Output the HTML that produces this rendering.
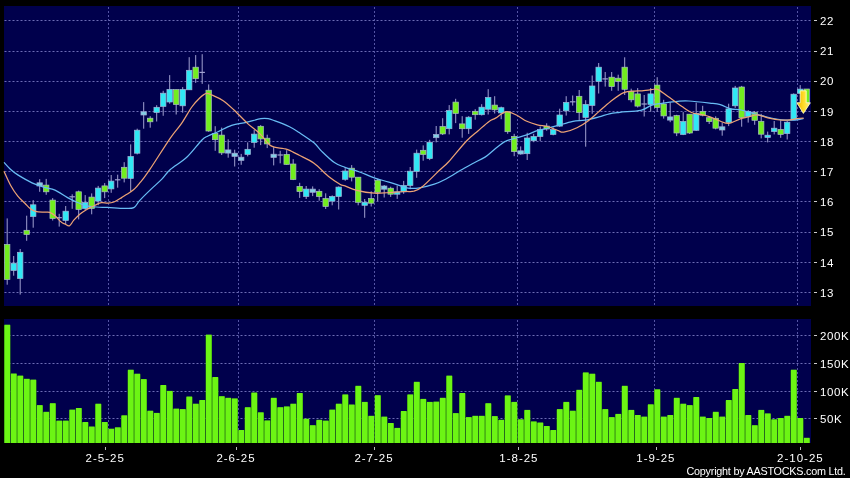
<!DOCTYPE html>
<html><head><meta charset="utf-8"><style>
html,body{margin:0;padding:0;background:#000;}
body{width:850px;height:478px;overflow:hidden;position:relative;font-family:"Liberation Sans",sans-serif;-webkit-font-smoothing:antialiased;}
#tx{position:absolute;left:0;top:0;width:850px;height:478px;will-change:transform}
.yl{position:absolute;left:820px;height:14px;line-height:14px;font-size:11.5px;color:#ffffff;letter-spacing:0.6px;white-space:nowrap}
.xl{position:absolute;top:451px;width:80px;text-align:center;height:14px;line-height:14px;font-size:11.5px;color:#ffffff;letter-spacing:1px;white-space:nowrap}
.cp{position:absolute;left:686.5px;top:464px;height:14px;line-height:14px;font-size:10.8px;color:#ffffff;letter-spacing:-0.23px;white-space:nowrap}
</style></head><body>
<svg width="850" height="478" viewBox="0 0 850 478" style="position:absolute;left:0;top:0">
<rect x="0" y="0" width="850" height="478" fill="#000"/>
<rect x="4" y="6" width="807" height="300" fill="#00004c"/>
<rect x="4" y="319" width="807" height="124" fill="#00004c"/>
<path d="M4.5 20.5H811 M4.5 51.5H811 M4.5 81.5H811 M4.5 111.5H811 M4.5 141.5H811 M4.5 171.5H811 M4.5 201.5H811 M4.5 232.5H811 M4.5 262.5H811 M4.5 292.5H811 M4.5 335.5H811 M4.5 363.5H811 M4.5 391.5H811 M4.5 418.5H811" stroke="#6c6cb4" stroke-width="1" stroke-dasharray="2 2" fill="none"/>
<path d="M108.5 7V306M108.5 320V443 M238.5 7V306M238.5 320V443 M374.5 7V306M374.5 320V443 M517.5 7V306M517.5 320V443 M654.5 7V306M654.5 320V443 M797.5 7V306M797.5 320V443" stroke="#5454a4" stroke-width="1" stroke-dasharray="2 2" fill="none"/>
<path d="M7.20 218.4V284.7 M13.70 256.0V275.7 M20.20 249.0V294.6 M26.70 215.7V240.8 M33.20 200.1V227.7 M39.70 179.2V191.8 M46.20 178.9V194.8 M52.70 198.1V220.5 M59.20 213.8V226.6 M65.70 206.0V224.4 M72.20 194.3V208.8 M78.70 190.6V219.4 M85.20 195.1V210.2 M91.70 193.4V214.3 M98.20 185.9V205.2 M104.70 183.1V198.1 M111.20 175.0V192.8 M117.70 174.7V187.7 M124.20 162.2V182.4 M130.70 144.4V191.4 M137.20 128.7V154.4 M143.70 102.1V128.7 M150.20 116.2V127.7 M156.70 105.2V121.5 M163.20 90.8V115.8 M169.70 75.1V103.7 M176.20 89.6V114.5 M182.70 87.1V112.7 M189.20 57.2V89.8 M195.70 55.1V82.9 M202.20 54.2V83.9 M208.70 84.4V131.8 M215.20 126.2V150.8 M221.70 127.6V155.0 M228.20 139.3V157.7 M234.70 149.7V166.5 M241.20 153.9V164.8 M247.70 142.4V156.4 M254.20 129.9V147.7 M260.70 125.1V145.1 M267.20 134.7V148.1 M273.70 147.2V165.4 M280.20 150.8V163.3 M286.70 150.2V164.8 M293.20 159.2V180.1 M299.70 182.8V197.9 M306.20 186.0V199.0 M312.70 186.4V196.1 M319.20 189.2V200.7 M325.70 193.3V209.0 M332.20 195.4V205.3 M338.70 186.4V209.5 M345.20 168.2V180.8 M351.70 165.1V181.4 M358.20 177.2V205.3 M364.70 199.0V217.8 M371.20 191.3V206.5 M377.70 178.7V201.1 M384.20 185.0V197.5 M390.70 186.7V196.9 M397.20 185.5V198.9 M403.70 180.9V193.8 M410.20 167.0V189.2 M416.70 149.6V177.8 M423.20 145.4V160.7 M429.70 139.8V160.1 M436.20 126.0V142.3 M442.70 118.2V135.0 M449.20 105.1V134.4 M455.70 98.8V123.1 M462.20 116.2V137.7 M468.70 116.2V133.9 M475.20 109.2V119.7 M481.70 104.2V115.5 M488.20 89.2V114.5 M494.70 96.2V113.5 M501.20 106.6V119.2 M507.70 111.4V133.8 M514.20 133.8V156.2 M520.70 146.4V154.7 M527.20 132.8V160.0 M533.70 133.8V142.2 M540.20 126.5V141.1 M546.70 123.3V130.7 M553.20 127.5V135.3 M559.70 108.7V126.9 M566.20 96.2V115.6 M572.70 95.5V105.6 M579.20 90.0V121.0 M585.70 100.2V146.7 M592.20 75.5V113.8 M598.70 63.0V93.5 M605.20 72.0V86.6 M611.70 72.0V90.8 M618.20 74.7V90.8 M624.70 57.3V95.0 M631.20 88.7V102.3 M637.70 88.1V107.5 M644.20 95.0V116.5 M650.70 88.1V111.7 M657.20 77.2V111.7 M663.70 99.8V118.6 M670.20 102.3V122.2 M676.70 114.8V136.1 M683.20 112.1V135.1 M689.70 114.2V134.0 M696.20 102.7V130.9 M702.70 105.8V116.3 M709.20 116.3V124.0 M715.70 116.3V129.4 M722.20 122.5V135.7 M728.70 103.7V126.1 M735.20 85.9V107.9 M741.70 85.9V126.7 M748.20 110.1V122.6 M754.70 111.0V124.8 M761.20 113.8V138.4 M767.70 131.6V142.4 M774.20 121.0V134.4 M780.70 120.2V137.8 M787.20 121.0V139.5 M793.70 93.4V120.2 M800.20 85.1V93.4 M806.70 89.0V102.4" stroke="#a0a0d0" stroke-width="1" fill="none"/>
<g fill="#30e8f4" stroke="#a0b4d8" stroke-width="0.7"><rect x="10.95" y="263.2" width="5.45" height="7.3"/><rect x="17.45" y="252.3" width="5.45" height="26.2"/><rect x="30.45" y="204.8" width="5.45" height="11.7"/><rect x="62.95" y="211.2" width="5.45" height="9.3"/><rect x="82.45" y="202.6" width="5.45" height="5.9"/><rect x="95.45" y="188.1" width="5.45" height="12.9"/><rect x="108.45" y="181.1" width="5.45" height="7.8"/><rect x="127.95" y="156.5" width="5.45" height="21.9"/><rect x="134.45" y="130.2" width="5.45" height="23.0"/><rect x="153.95" y="107.3" width="5.45" height="5.2"/><rect x="160.45" y="93.2" width="5.45" height="13.2"/><rect x="166.95" y="89.4" width="5.45" height="12.6"/><rect x="179.95" y="89.4" width="5.45" height="16.4"/><rect x="186.45" y="70.3" width="5.45" height="19.5"/><rect x="244.95" y="149.3" width="5.45" height="5.1"/><rect x="251.45" y="134.1" width="5.45" height="8.3"/><rect x="303.45" y="189.1" width="5.45" height="7.4"/><rect x="329.45" y="196.5" width="5.45" height="4.6"/><rect x="335.95" y="187.1" width="5.45" height="9.4"/><rect x="342.45" y="171.0" width="5.45" height="8.3"/><rect x="361.95" y="202.3" width="5.45" height="3.0"/><rect x="394.45" y="191.9" width="5.45" height="2.3"/><rect x="400.95" y="185.5" width="5.45" height="6.4"/><rect x="407.45" y="171.2" width="5.45" height="14.3"/><rect x="413.95" y="153.2" width="5.45" height="18.2"/><rect x="426.95" y="142.3" width="5.45" height="16.3"/><rect x="446.45" y="110.5" width="5.45" height="18.2"/><rect x="465.95" y="117.2" width="5.45" height="11.5"/><rect x="478.95" y="107.2" width="5.45" height="7.5"/><rect x="485.45" y="97.5" width="5.45" height="11.7"/><rect x="498.45" y="107.7" width="5.45" height="5.2"/><rect x="524.45" y="138.0" width="5.45" height="15.7"/><rect x="530.95" y="136.5" width="5.45" height="4.2"/><rect x="537.45" y="129.6" width="5.45" height="6.9"/><rect x="550.45" y="129.6" width="5.45" height="4.8"/><rect x="556.95" y="115.0" width="5.45" height="11.1"/><rect x="563.45" y="102.4" width="5.45" height="8.4"/><rect x="582.95" y="104.4" width="5.45" height="13.0"/><rect x="589.45" y="86.0" width="5.45" height="19.4"/><rect x="595.95" y="67.2" width="5.45" height="14.2"/><rect x="647.95" y="93.9" width="5.45" height="10.5"/><rect x="680.45" y="121.5" width="5.45" height="13.0"/><rect x="693.45" y="113.5" width="5.45" height="16.8"/><rect x="725.95" y="108.9" width="5.45" height="13.6"/><rect x="732.45" y="88.0" width="5.45" height="17.8"/><rect x="745.45" y="111.6" width="5.45" height="5.0"/><rect x="764.95" y="135.2" width="5.45" height="2.3"/><rect x="771.45" y="128.2" width="5.45" height="3.4"/><rect x="784.45" y="122.2" width="5.45" height="11.4"/><rect x="790.95" y="94.2" width="5.45" height="25.7"/><rect x="797.45" y="89.1" width="5.45" height="4.2"/></g>
<g fill="#72ee1e" stroke="#a8bcc0" stroke-width="0.7"><rect x="4.45" y="244.4" width="5.45" height="35.1"/><rect x="23.95" y="230.3" width="5.45" height="4.2"/><rect x="43.45" y="185.1" width="5.45" height="6.7"/><rect x="49.95" y="200.1" width="5.45" height="18.4"/><rect x="75.95" y="191.8" width="5.45" height="17.7"/><rect x="88.95" y="197.1" width="5.45" height="11.4"/><rect x="101.95" y="185.9" width="5.45" height="5.9"/><rect x="121.45" y="167.3" width="5.45" height="10.9"/><rect x="147.45" y="118.2" width="5.45" height="3.6"/><rect x="173.45" y="89.6" width="5.45" height="14.9"/><rect x="192.95" y="67.2" width="5.45" height="11.5"/><rect x="205.95" y="90.2" width="5.45" height="40.8"/><rect x="212.45" y="133.5" width="5.45" height="6.2"/><rect x="218.95" y="135.1" width="5.45" height="17.8"/><rect x="257.95" y="126.3" width="5.45" height="12.6"/><rect x="264.45" y="138.2" width="5.45" height="5.7"/><rect x="283.95" y="154.4" width="5.45" height="10.0"/><rect x="290.45" y="164.0" width="5.45" height="15.5"/><rect x="296.95" y="186.4" width="5.45" height="5.2"/><rect x="316.45" y="191.3" width="5.45" height="5.2"/><rect x="322.95" y="198.6" width="5.45" height="7.9"/><rect x="348.95" y="168.2" width="5.45" height="9.0"/><rect x="355.45" y="177.2" width="5.45" height="25.1"/><rect x="368.45" y="198.6" width="5.45" height="4.6"/><rect x="374.95" y="180.2" width="5.45" height="12.1"/><rect x="387.95" y="188.2" width="5.45" height="6.0"/><rect x="420.45" y="150.3" width="5.45" height="4.1"/><rect x="439.95" y="126.6" width="5.45" height="7.3"/><rect x="452.95" y="102.1" width="5.45" height="11.3"/><rect x="459.45" y="123.9" width="5.45" height="4.8"/><rect x="472.45" y="111.3" width="5.45" height="3.4"/><rect x="491.95" y="105.1" width="5.45" height="4.7"/><rect x="504.95" y="111.8" width="5.45" height="19.9"/><rect x="511.45" y="136.5" width="5.45" height="15.1"/><rect x="543.95" y="126.1" width="5.45" height="2.9"/><rect x="576.45" y="96.3" width="5.45" height="16.3"/><rect x="608.95" y="77.2" width="5.45" height="9.4"/><rect x="615.45" y="78.2" width="5.45" height="3.2"/><rect x="621.95" y="67.2" width="5.45" height="22.1"/><rect x="628.45" y="91.4" width="5.45" height="8.4"/><rect x="634.95" y="93.9" width="5.45" height="12.2"/><rect x="654.45" y="85.1" width="5.45" height="22.4"/><rect x="660.95" y="104.0" width="5.45" height="11.9"/><rect x="673.95" y="115.6" width="5.45" height="17.4"/><rect x="686.95" y="114.2" width="5.45" height="18.8"/><rect x="699.95" y="111.4" width="5.45" height="3.8"/><rect x="706.45" y="117.7" width="5.45" height="3.8"/><rect x="712.95" y="118.3" width="5.45" height="9.9"/><rect x="738.95" y="87.0" width="5.45" height="30.7"/><rect x="751.95" y="112.4" width="5.45" height="7.9"/><rect x="758.45" y="121.3" width="5.45" height="12.9"/><rect x="777.95" y="129.4" width="5.45" height="5.0"/><rect x="803.95" y="89.0" width="5.45" height="13.4"/></g>
<g fill="#80d0e4" stroke="#a0a8d4" stroke-width="0.7"><rect x="36.95" y="182.8" width="5.45" height="3.2"/><rect x="140.95" y="111.8" width="5.45" height="3.2"/><rect x="225.45" y="149.9" width="5.45" height="3.2"/><rect x="231.95" y="153.2" width="5.45" height="3.2"/><rect x="238.45" y="157.2" width="5.45" height="3.2"/><rect x="270.95" y="154.2" width="5.45" height="3.2"/><rect x="309.95" y="189.1" width="5.45" height="3.2"/><rect x="381.45" y="186.0" width="5.45" height="3.2"/><rect x="433.45" y="134.4" width="5.45" height="3.3"/><rect x="517.95" y="150.8" width="5.45" height="3.2"/><rect x="667.45" y="116.9" width="5.45" height="3.2"/><rect x="719.45" y="126.8" width="5.45" height="3.2"/></g>
<g fill="#a0a0d0"><rect x="56.45" y="217.1" width="5.45" height="1.2"/><rect x="69.45" y="196.2" width="5.45" height="1.2"/><rect x="114.95" y="179.2" width="5.45" height="1.2"/><rect x="199.45" y="71.8" width="5.45" height="1.2"/><rect x="277.45" y="154.4" width="5.45" height="1.2"/><rect x="569.95" y="101.2" width="5.45" height="1.2"/><rect x="602.45" y="78.3" width="5.45" height="1.2"/><rect x="641.45" y="103.4" width="5.45" height="1.2"/></g>
<path d="M4.0 162.4 C5.1 163.6 8.4 167.4 10.7 169.5 C13.0 171.6 14.2 172.7 17.8 174.9 C21.4 177.1 27.6 180.8 32.0 182.9 C36.4 185.0 40.6 186.1 44.4 187.3 C48.2 188.5 51.1 188.4 55.0 190.1 C58.9 191.8 64.0 195.6 67.6 197.6 C71.2 199.6 73.3 200.6 76.4 202.0 C79.5 203.4 83.1 205.0 86.4 205.8 C89.8 206.6 92.9 206.7 96.5 207.0 C100.1 207.3 103.2 207.2 107.8 207.4 C112.4 207.6 119.8 208.3 124.1 208.3 C128.4 208.3 131.2 208.9 133.8 207.6 C136.4 206.3 136.7 203.7 139.6 200.6 C142.5 197.5 147.7 192.4 151.4 188.9 C155.1 185.4 158.4 182.6 161.6 179.4 C164.8 176.2 166.1 173.2 170.3 169.5 C174.5 165.8 181.8 161.9 187.0 157.0 C192.2 152.1 198.2 143.7 201.7 140.2 C205.2 136.7 205.3 137.4 208.0 136.0 C210.7 134.6 214.1 133.6 218.0 131.8 C221.9 130.0 226.9 126.9 231.6 125.3 C236.3 123.7 241.4 123.4 246.3 122.3 C251.2 121.2 257.2 119.3 260.9 118.7 C264.5 118.1 265.8 118.3 268.2 118.7 C270.6 119.1 271.4 119.6 275.0 120.9 C278.6 122.2 285.4 124.8 289.5 126.7 C293.6 128.7 295.2 129.9 299.3 132.6 C303.4 135.3 310.3 139.8 314.0 142.8 C317.7 145.9 317.9 147.6 321.3 150.9 C324.7 154.2 330.4 159.9 334.4 162.6 C338.3 165.3 340.8 165.7 345.0 167.3 C349.2 168.9 354.7 170.2 359.6 172.0 C364.5 173.8 369.4 176.1 374.3 177.8 C379.2 179.5 384.5 180.8 388.9 182.2 C393.3 183.5 397.4 184.9 400.6 185.9 C403.8 186.9 404.8 187.9 408.0 188.2 C411.2 188.5 415.2 188.5 419.6 187.8 C424.0 187.1 429.9 185.7 434.3 184.2 C438.7 182.7 441.6 181.3 446.0 179.0 C450.4 176.7 456.2 172.9 460.6 170.3 C465.0 167.8 468.2 165.9 472.3 163.7 C476.4 161.5 481.1 159.6 485.0 157.1 C488.9 154.6 492.0 151.2 495.5 148.5 C499.0 145.8 502.4 142.8 505.9 141.1 C509.4 139.3 512.9 139.0 516.4 138.0 C519.9 137.0 523.3 136.1 526.8 134.9 C530.3 133.7 533.8 131.8 537.3 130.7 C540.8 129.6 544.3 129.1 547.8 128.2 C551.3 127.3 554.0 126.6 558.2 125.4 C562.4 124.2 568.4 122.2 572.9 121.3 C577.4 120.4 580.7 120.9 585.0 120.2 C589.3 119.5 594.8 118.0 598.9 116.9 C603.0 115.8 605.9 114.6 609.4 113.8 C612.9 113.0 614.6 112.9 619.8 112.3 C625.0 111.7 635.6 111.4 640.8 110.3 C646.0 109.2 647.7 106.6 651.2 105.4 C654.7 104.2 657.2 104.0 661.7 103.3 C666.2 102.6 673.5 101.7 678.0 101.3 C682.5 100.9 683.6 100.7 688.9 101.0 C694.2 101.3 704.6 102.5 709.8 103.1 C715.0 103.7 716.8 103.7 720.3 104.7 C723.8 105.7 727.3 108.0 730.8 108.9 C734.3 109.8 736.9 109.1 741.2 110.0 C745.5 110.9 752.7 113.3 756.7 114.4 C760.7 115.5 762.3 115.8 765.1 116.5 C767.9 117.2 770.7 117.9 773.5 118.5 C776.3 119.1 779.0 119.6 781.8 119.9 C784.6 120.2 787.7 120.2 790.2 120.2 C792.7 120.2 794.7 120.2 796.9 119.9 C799.1 119.6 802.5 118.7 803.6 118.5" stroke="#68bcf4" stroke-width="1.25" fill="none" stroke-linejoin="round"/>
<path d="M4.0 171.3 C5.1 173.7 8.4 181.3 10.7 185.5 C13.0 189.7 15.4 193.2 17.8 196.2 C20.2 199.2 22.8 201.2 24.9 203.3 C27.0 205.4 28.4 207.3 30.2 208.6 C32.0 209.9 33.1 210.7 35.5 211.3 C37.9 211.9 42.0 212.0 44.4 212.2 C46.8 212.4 47.9 211.8 49.7 212.4 C51.5 213.0 53.2 214.2 55.1 215.8 C57.0 217.4 59.6 220.7 61.3 222.1 C62.9 223.5 63.6 223.4 65.0 224.0 C66.3 224.6 67.9 226.5 69.4 225.9 C70.9 225.3 72.0 222.2 73.8 220.2 C75.6 218.2 77.8 215.8 80.1 213.9 C82.4 212.0 85.2 210.4 87.7 208.9 C90.2 207.4 92.9 206.2 95.2 205.2 C97.5 204.1 99.4 202.9 101.5 202.6 C103.6 202.3 105.7 203.3 107.8 203.2 C109.9 203.1 111.7 202.9 114.0 202.0 C116.3 201.1 118.9 199.3 121.6 197.6 C124.3 195.9 128.2 193.5 130.4 192.0 C132.6 190.5 133.5 189.9 135.0 188.4 C136.5 186.9 138.2 184.8 139.6 183.1 C141.0 181.4 141.8 180.7 143.5 178.4 C145.2 176.1 145.5 175.9 150.0 169.2 C154.5 162.5 165.1 145.7 170.3 138.1 C175.5 130.5 177.8 128.9 181.4 123.7 C185.0 118.5 188.7 111.4 191.8 107.0 C194.9 102.6 197.8 99.8 200.2 97.5 C202.6 95.2 204.4 93.6 206.5 93.3 C208.6 93.0 210.0 94.2 212.8 95.4 C215.6 96.6 219.7 98.3 223.2 100.7 C226.7 103.1 229.9 106.2 234.0 110.0 C238.1 113.8 243.3 119.6 247.7 123.6 C252.1 127.6 256.4 130.4 260.2 134.1 C264.0 137.8 266.9 143.2 270.7 145.6 C274.5 148.0 280.1 147.8 283.2 148.5 C286.2 149.2 286.3 149.0 289.0 150.1 C291.7 151.2 295.1 153.1 299.3 155.3 C303.5 157.5 309.1 159.8 314.0 163.3 C318.9 166.8 324.2 173.0 328.6 176.5 C333.0 180.0 337.6 182.9 340.3 184.5 C343.0 186.1 342.3 184.9 345.0 185.9 C347.7 186.9 351.8 189.1 356.7 190.3 C361.6 191.5 368.9 192.8 374.3 193.2 C379.7 193.6 383.8 192.8 388.9 192.5 C394.0 192.2 400.9 191.7 405.0 191.5 C409.1 191.3 410.9 192.0 413.8 191.2 C416.7 190.3 418.5 189.8 422.6 186.4 C426.8 183.0 434.3 175.2 438.7 171.0 C443.1 166.8 444.3 166.5 448.9 161.5 C453.5 156.5 461.6 146.1 466.5 141.0 C471.4 135.9 474.4 134.0 478.2 130.7 C482.0 127.4 486.2 123.5 489.1 121.4 C492.0 119.3 492.7 119.7 495.5 118.1 C498.3 116.5 502.4 112.3 505.9 111.8 C509.4 111.3 512.9 113.4 516.4 115.0 C519.9 116.6 523.3 119.7 526.8 121.3 C530.3 122.9 533.8 123.9 537.3 124.8 C540.8 125.7 544.3 125.5 547.8 126.5 C551.3 127.5 555.5 129.8 558.2 130.7 C560.9 131.6 560.7 132.6 563.8 132.1 C566.9 131.6 572.9 129.7 577.0 127.7 C581.1 125.8 585.1 123.1 588.7 120.4 C592.4 117.7 595.2 114.8 598.9 111.6 C602.5 108.4 606.5 104.6 610.6 101.4 C614.8 98.2 619.7 94.3 623.8 92.6 C627.9 90.9 632.2 91.4 635.0 91.1 C637.8 90.8 638.1 91.0 640.8 90.8 C643.5 90.6 648.4 90.0 651.2 89.7 C654.0 89.5 655.0 88.4 657.5 89.3 C660.0 90.2 663.3 93.1 666.0 95.0 C668.7 96.9 671.2 98.8 673.9 100.7 C676.6 102.6 679.1 104.5 682.0 106.5 C684.9 108.5 688.0 111.1 691.5 112.5 C695.0 113.9 700.1 114.2 703.2 114.9 C706.3 115.6 707.2 115.9 710.0 116.9 C712.8 117.9 716.9 119.9 720.0 121.0 C723.1 122.1 725.4 123.8 728.8 123.4 C732.2 123.0 737.0 119.9 740.3 118.8 C743.5 117.7 745.4 117.7 748.3 117.0 C751.2 116.3 754.0 114.7 757.5 114.9 C761.0 115.1 765.2 117.4 769.0 118.2 C772.8 119.0 776.5 119.7 780.0 120.0 C783.5 120.3 787.4 120.2 790.2 119.9 C793.0 119.7 794.7 118.8 796.9 118.5 C799.1 118.2 802.5 118.2 803.6 118.2" stroke="#eca274" stroke-width="1.25" fill="none" stroke-linejoin="round"/>
<g fill="#2a7a12"><rect x="4.00" y="325.2" width="6.5" height="117.8"/><rect x="10.50" y="374.0" width="6.5" height="69.0"/><rect x="17.00" y="376.1" width="6.5" height="66.9"/><rect x="23.50" y="379.3" width="6.5" height="63.7"/><rect x="30.00" y="380.1" width="6.5" height="62.9"/><rect x="36.50" y="405.6" width="6.5" height="37.4"/><rect x="43.00" y="412.3" width="6.5" height="30.7"/><rect x="49.50" y="403.7" width="6.5" height="39.3"/><rect x="56.00" y="421.1" width="6.5" height="21.9"/><rect x="62.50" y="421.1" width="6.5" height="21.9"/><rect x="69.00" y="410.1" width="6.5" height="32.9"/><rect x="75.50" y="408.5" width="6.5" height="34.5"/><rect x="82.00" y="422.5" width="6.5" height="20.5"/><rect x="88.50" y="427.0" width="6.5" height="16.0"/><rect x="95.00" y="404.2" width="6.5" height="38.8"/><rect x="101.50" y="422.5" width="6.5" height="20.5"/><rect x="108.00" y="429.2" width="6.5" height="13.8"/><rect x="114.50" y="427.8" width="6.5" height="15.2"/><rect x="121.00" y="415.8" width="6.5" height="27.2"/><rect x="127.50" y="370.2" width="6.5" height="72.8"/><rect x="134.00" y="374.2" width="6.5" height="68.8"/><rect x="140.50" y="379.6" width="6.5" height="63.4"/><rect x="147.00" y="411.2" width="6.5" height="31.8"/><rect x="153.50" y="413.4" width="6.5" height="29.6"/><rect x="160.00" y="385.5" width="6.5" height="57.5"/><rect x="166.50" y="391.4" width="6.5" height="51.6"/><rect x="173.00" y="409.1" width="6.5" height="33.9"/><rect x="179.50" y="409.6" width="6.5" height="33.4"/><rect x="186.00" y="397.0" width="6.5" height="46.0"/><rect x="192.50" y="404.2" width="6.5" height="38.8"/><rect x="199.00" y="400.5" width="6.5" height="42.5"/><rect x="205.50" y="335.1" width="6.5" height="107.9"/><rect x="212.00" y="377.5" width="6.5" height="65.5"/><rect x="218.50" y="396.7" width="6.5" height="46.3"/><rect x="225.00" y="398.3" width="6.5" height="44.7"/><rect x="231.50" y="398.9" width="6.5" height="44.1"/><rect x="238.00" y="430.5" width="6.5" height="12.5"/><rect x="244.50" y="407.7" width="6.5" height="35.3"/><rect x="251.00" y="393.0" width="6.5" height="50.0"/><rect x="257.50" y="412.8" width="6.5" height="30.2"/><rect x="264.00" y="420.9" width="6.5" height="22.1"/><rect x="270.50" y="398.3" width="6.5" height="44.7"/><rect x="277.00" y="407.7" width="6.5" height="35.3"/><rect x="283.50" y="406.9" width="6.5" height="36.1"/><rect x="290.00" y="404.2" width="6.5" height="38.8"/><rect x="296.50" y="393.5" width="6.5" height="49.5"/><rect x="303.00" y="419.2" width="6.5" height="23.8"/><rect x="309.50" y="425.7" width="6.5" height="17.3"/><rect x="316.00" y="420.3" width="6.5" height="22.7"/><rect x="322.50" y="421.1" width="6.5" height="21.9"/><rect x="329.00" y="410.1" width="6.5" height="32.9"/><rect x="335.50" y="404.2" width="6.5" height="38.8"/><rect x="342.00" y="394.9" width="6.5" height="48.1"/><rect x="348.50" y="405.0" width="6.5" height="38.0"/><rect x="355.00" y="386.3" width="6.5" height="56.7"/><rect x="361.50" y="402.4" width="6.5" height="40.6"/><rect x="368.00" y="416.3" width="6.5" height="26.7"/><rect x="374.50" y="395.7" width="6.5" height="47.3"/><rect x="381.00" y="417.1" width="6.5" height="25.9"/><rect x="387.50" y="423.5" width="6.5" height="19.5"/><rect x="394.00" y="428.4" width="6.5" height="14.6"/><rect x="400.50" y="411.5" width="6.5" height="31.5"/><rect x="407.00" y="394.9" width="6.5" height="48.1"/><rect x="413.50" y="382.3" width="6.5" height="60.7"/><rect x="420.00" y="399.4" width="6.5" height="43.6"/><rect x="426.50" y="402.4" width="6.5" height="40.6"/><rect x="433.00" y="402.1" width="6.5" height="40.9"/><rect x="439.50" y="398.3" width="6.5" height="44.7"/><rect x="446.00" y="376.1" width="6.5" height="66.9"/><rect x="452.50" y="413.6" width="6.5" height="29.4"/><rect x="459.00" y="393.5" width="6.5" height="49.5"/><rect x="465.50" y="417.6" width="6.5" height="25.4"/><rect x="472.00" y="416.3" width="6.5" height="26.7"/><rect x="478.50" y="416.3" width="6.5" height="26.7"/><rect x="485.00" y="403.7" width="6.5" height="39.3"/><rect x="491.50" y="416.6" width="6.5" height="26.4"/><rect x="498.00" y="420.3" width="6.5" height="22.7"/><rect x="504.50" y="395.9" width="6.5" height="47.1"/><rect x="511.00" y="402.4" width="6.5" height="40.6"/><rect x="517.50" y="419.8" width="6.5" height="23.2"/><rect x="524.00" y="410.4" width="6.5" height="32.6"/><rect x="530.50" y="421.9" width="6.5" height="21.1"/><rect x="537.00" y="423.0" width="6.5" height="20.0"/><rect x="543.50" y="426.5" width="6.5" height="16.5"/><rect x="550.00" y="430.5" width="6.5" height="12.5"/><rect x="556.50" y="409.6" width="6.5" height="33.4"/><rect x="563.00" y="402.4" width="6.5" height="40.6"/><rect x="569.50" y="411.2" width="6.5" height="31.8"/><rect x="576.00" y="390.3" width="6.5" height="52.7"/><rect x="582.50" y="372.9" width="6.5" height="70.1"/><rect x="589.00" y="374.2" width="6.5" height="68.8"/><rect x="595.50" y="382.3" width="6.5" height="60.7"/><rect x="602.00" y="409.6" width="6.5" height="33.4"/><rect x="608.50" y="417.6" width="6.5" height="25.4"/><rect x="615.00" y="414.4" width="6.5" height="28.6"/><rect x="621.50" y="386.3" width="6.5" height="56.7"/><rect x="628.00" y="410.4" width="6.5" height="32.6"/><rect x="634.50" y="415.5" width="6.5" height="27.5"/><rect x="641.00" y="417.1" width="6.5" height="25.9"/><rect x="647.50" y="404.8" width="6.5" height="38.2"/><rect x="654.00" y="389.8" width="6.5" height="53.2"/><rect x="660.50" y="417.1" width="6.5" height="25.9"/><rect x="667.00" y="415.5" width="6.5" height="27.5"/><rect x="673.50" y="398.3" width="6.5" height="44.7"/><rect x="680.00" y="404.2" width="6.5" height="38.8"/><rect x="686.50" y="405.6" width="6.5" height="37.4"/><rect x="693.00" y="397.5" width="6.5" height="45.5"/><rect x="699.50" y="417.1" width="6.5" height="25.9"/><rect x="706.00" y="418.5" width="6.5" height="24.5"/><rect x="712.50" y="412.3" width="6.5" height="30.7"/><rect x="719.00" y="417.1" width="6.5" height="25.9"/><rect x="725.50" y="400.5" width="6.5" height="42.5"/><rect x="732.00" y="389.5" width="6.5" height="53.5"/><rect x="738.50" y="363.5" width="6.5" height="79.5"/><rect x="745.00" y="415.5" width="6.5" height="27.5"/><rect x="751.50" y="425.7" width="6.5" height="17.3"/><rect x="758.00" y="410.4" width="6.5" height="32.6"/><rect x="764.50" y="413.9" width="6.5" height="29.1"/><rect x="771.00" y="419.8" width="6.5" height="23.2"/><rect x="777.50" y="418.5" width="6.5" height="24.5"/><rect x="784.00" y="416.3" width="6.5" height="26.7"/><rect x="790.50" y="370.2" width="6.5" height="72.8"/><rect x="797.00" y="418.5" width="6.5" height="24.5"/><rect x="803.50" y="438.3" width="6.5" height="4.7"/></g>
<g fill="#6cf514"><rect x="4.50" y="324.7" width="5.6" height="118.3"/><rect x="11.00" y="373.5" width="5.6" height="69.5"/><rect x="17.50" y="375.6" width="5.6" height="67.4"/><rect x="24.00" y="378.8" width="5.6" height="64.2"/><rect x="30.50" y="379.6" width="5.6" height="63.4"/><rect x="37.00" y="405.1" width="5.6" height="37.9"/><rect x="43.50" y="411.8" width="5.6" height="31.2"/><rect x="50.00" y="403.2" width="5.6" height="39.8"/><rect x="56.50" y="420.6" width="5.6" height="22.4"/><rect x="63.00" y="420.6" width="5.6" height="22.4"/><rect x="69.50" y="409.6" width="5.6" height="33.4"/><rect x="76.00" y="408.0" width="5.6" height="35.0"/><rect x="82.50" y="422.0" width="5.6" height="21.0"/><rect x="89.00" y="426.5" width="5.6" height="16.5"/><rect x="95.50" y="403.7" width="5.6" height="39.3"/><rect x="102.00" y="422.0" width="5.6" height="21.0"/><rect x="108.50" y="428.7" width="5.6" height="14.3"/><rect x="115.00" y="427.3" width="5.6" height="15.7"/><rect x="121.50" y="415.3" width="5.6" height="27.7"/><rect x="128.00" y="369.7" width="5.6" height="73.3"/><rect x="134.50" y="373.7" width="5.6" height="69.3"/><rect x="141.00" y="379.1" width="5.6" height="63.9"/><rect x="147.50" y="410.7" width="5.6" height="32.3"/><rect x="154.00" y="412.9" width="5.6" height="30.1"/><rect x="160.50" y="385.0" width="5.6" height="58.0"/><rect x="167.00" y="390.9" width="5.6" height="52.1"/><rect x="173.50" y="408.6" width="5.6" height="34.4"/><rect x="180.00" y="409.1" width="5.6" height="33.9"/><rect x="186.50" y="396.5" width="5.6" height="46.5"/><rect x="193.00" y="403.7" width="5.6" height="39.3"/><rect x="199.50" y="400.0" width="5.6" height="43.0"/><rect x="206.00" y="334.6" width="5.6" height="108.4"/><rect x="212.50" y="377.0" width="5.6" height="66.0"/><rect x="219.00" y="396.2" width="5.6" height="46.8"/><rect x="225.50" y="397.8" width="5.6" height="45.2"/><rect x="232.00" y="398.4" width="5.6" height="44.6"/><rect x="238.50" y="430.0" width="5.6" height="13.0"/><rect x="245.00" y="407.2" width="5.6" height="35.8"/><rect x="251.50" y="392.5" width="5.6" height="50.5"/><rect x="258.00" y="412.3" width="5.6" height="30.7"/><rect x="264.50" y="420.4" width="5.6" height="22.6"/><rect x="271.00" y="397.8" width="5.6" height="45.2"/><rect x="277.50" y="407.2" width="5.6" height="35.8"/><rect x="284.00" y="406.4" width="5.6" height="36.6"/><rect x="290.50" y="403.7" width="5.6" height="39.3"/><rect x="297.00" y="393.0" width="5.6" height="50.0"/><rect x="303.50" y="418.7" width="5.6" height="24.3"/><rect x="310.00" y="425.2" width="5.6" height="17.8"/><rect x="316.50" y="419.8" width="5.6" height="23.2"/><rect x="323.00" y="420.6" width="5.6" height="22.4"/><rect x="329.50" y="409.6" width="5.6" height="33.4"/><rect x="336.00" y="403.7" width="5.6" height="39.3"/><rect x="342.50" y="394.4" width="5.6" height="48.6"/><rect x="349.00" y="404.5" width="5.6" height="38.5"/><rect x="355.50" y="385.8" width="5.6" height="57.2"/><rect x="362.00" y="401.9" width="5.6" height="41.1"/><rect x="368.50" y="415.8" width="5.6" height="27.2"/><rect x="375.00" y="395.2" width="5.6" height="47.8"/><rect x="381.50" y="416.6" width="5.6" height="26.4"/><rect x="388.00" y="423.0" width="5.6" height="20.0"/><rect x="394.50" y="427.9" width="5.6" height="15.1"/><rect x="401.00" y="411.0" width="5.6" height="32.0"/><rect x="407.50" y="394.4" width="5.6" height="48.6"/><rect x="414.00" y="381.8" width="5.6" height="61.2"/><rect x="420.50" y="398.9" width="5.6" height="44.1"/><rect x="427.00" y="401.9" width="5.6" height="41.1"/><rect x="433.50" y="401.6" width="5.6" height="41.4"/><rect x="440.00" y="397.8" width="5.6" height="45.2"/><rect x="446.50" y="375.6" width="5.6" height="67.4"/><rect x="453.00" y="413.1" width="5.6" height="29.9"/><rect x="459.50" y="393.0" width="5.6" height="50.0"/><rect x="466.00" y="417.1" width="5.6" height="25.9"/><rect x="472.50" y="415.8" width="5.6" height="27.2"/><rect x="479.00" y="415.8" width="5.6" height="27.2"/><rect x="485.50" y="403.2" width="5.6" height="39.8"/><rect x="492.00" y="416.1" width="5.6" height="26.9"/><rect x="498.50" y="419.8" width="5.6" height="23.2"/><rect x="505.00" y="395.4" width="5.6" height="47.6"/><rect x="511.50" y="401.9" width="5.6" height="41.1"/><rect x="518.00" y="419.3" width="5.6" height="23.7"/><rect x="524.50" y="409.9" width="5.6" height="33.1"/><rect x="531.00" y="421.4" width="5.6" height="21.6"/><rect x="537.50" y="422.5" width="5.6" height="20.5"/><rect x="544.00" y="426.0" width="5.6" height="17.0"/><rect x="550.50" y="430.0" width="5.6" height="13.0"/><rect x="557.00" y="409.1" width="5.6" height="33.9"/><rect x="563.50" y="401.9" width="5.6" height="41.1"/><rect x="570.00" y="410.7" width="5.6" height="32.3"/><rect x="576.50" y="389.8" width="5.6" height="53.2"/><rect x="583.00" y="372.4" width="5.6" height="70.6"/><rect x="589.50" y="373.7" width="5.6" height="69.3"/><rect x="596.00" y="381.8" width="5.6" height="61.2"/><rect x="602.50" y="409.1" width="5.6" height="33.9"/><rect x="609.00" y="417.1" width="5.6" height="25.9"/><rect x="615.50" y="413.9" width="5.6" height="29.1"/><rect x="622.00" y="385.8" width="5.6" height="57.2"/><rect x="628.50" y="409.9" width="5.6" height="33.1"/><rect x="635.00" y="415.0" width="5.6" height="28.0"/><rect x="641.50" y="416.6" width="5.6" height="26.4"/><rect x="648.00" y="404.3" width="5.6" height="38.7"/><rect x="654.50" y="389.3" width="5.6" height="53.7"/><rect x="661.00" y="416.6" width="5.6" height="26.4"/><rect x="667.50" y="415.0" width="5.6" height="28.0"/><rect x="674.00" y="397.8" width="5.6" height="45.2"/><rect x="680.50" y="403.7" width="5.6" height="39.3"/><rect x="687.00" y="405.1" width="5.6" height="37.9"/><rect x="693.50" y="397.0" width="5.6" height="46.0"/><rect x="700.00" y="416.6" width="5.6" height="26.4"/><rect x="706.50" y="418.0" width="5.6" height="25.0"/><rect x="713.00" y="411.8" width="5.6" height="31.2"/><rect x="719.50" y="416.6" width="5.6" height="26.4"/><rect x="726.00" y="400.0" width="5.6" height="43.0"/><rect x="732.50" y="389.0" width="5.6" height="54.0"/><rect x="739.00" y="363.0" width="5.6" height="80.0"/><rect x="745.50" y="415.0" width="5.6" height="28.0"/><rect x="752.00" y="425.2" width="5.6" height="17.8"/><rect x="758.50" y="409.9" width="5.6" height="33.1"/><rect x="765.00" y="413.4" width="5.6" height="29.6"/><rect x="771.50" y="419.3" width="5.6" height="23.7"/><rect x="778.00" y="418.0" width="5.6" height="25.0"/><rect x="784.50" y="415.8" width="5.6" height="27.2"/><rect x="791.00" y="369.7" width="5.6" height="73.3"/><rect x="797.50" y="418.0" width="5.6" height="25.0"/><rect x="804.00" y="437.8" width="5.6" height="5.2"/></g>
<defs><linearGradient id="ag" x1="0" y1="0" x2="1" y2="0"><stop offset="0" stop-color="#f2b400"/><stop offset="0.5" stop-color="#ffdc28"/><stop offset="1" stop-color="#fff488"/></linearGradient></defs>
<path d="M800.2 90.8 H806.2 V102.8 H810.3 L803.4 113.4 L797 102.8 H800.2 Z" fill="url(#ag)" stroke="#ffffb8" stroke-width="0.9" stroke-linejoin="round"/>
<path d="M814 20.5H817 M814 51.5H817 M814 81.5H817 M814 111.5H817 M814 141.5H817 M814 171.5H817 M814 201.5H817 M814 232.5H817 M814 262.5H817 M814 292.5H817 M814 335.5H817 M814 363.5H817 M814 391.5H817 M814 418.5H817" stroke="#ccc" stroke-width="1"/>
<path d="M105.5 447V450 M236.5 447V450 M374.5 447V450 M518.5 447V450 M656.5 447V450 M800.5 447V450" stroke="#bbb" stroke-width="1"/>
</svg>
<div id="tx"><div class="yl" style="top:14px">22</div><div class="yl" style="top:44px">21</div><div class="yl" style="top:74px">20</div><div class="yl" style="top:105px">19</div><div class="yl" style="top:135px">18</div><div class="yl" style="top:165px">17</div><div class="yl" style="top:195px">16</div><div class="yl" style="top:225px">15</div><div class="yl" style="top:256px">14</div><div class="yl" style="top:286px">13</div><div class="yl" style="top:329px">200K</div><div class="yl" style="top:357px">150K</div><div class="yl" style="top:385px">100K</div><div class="yl" style="top:412px">50K</div><div class="xl" style="left:65.2px">2-5-25</div><div class="xl" style="left:196px">2-6-25</div><div class="xl" style="left:334px">2-7-25</div><div class="xl" style="left:478.9px">1-8-25</div><div class="xl" style="left:615.9px">1-9-25</div><div class="xl" style="left:760.4px">2-10-25</div>
<div class="cp">Copyright by AASTOCKS.com Ltd.</div></div>
</body></html>
